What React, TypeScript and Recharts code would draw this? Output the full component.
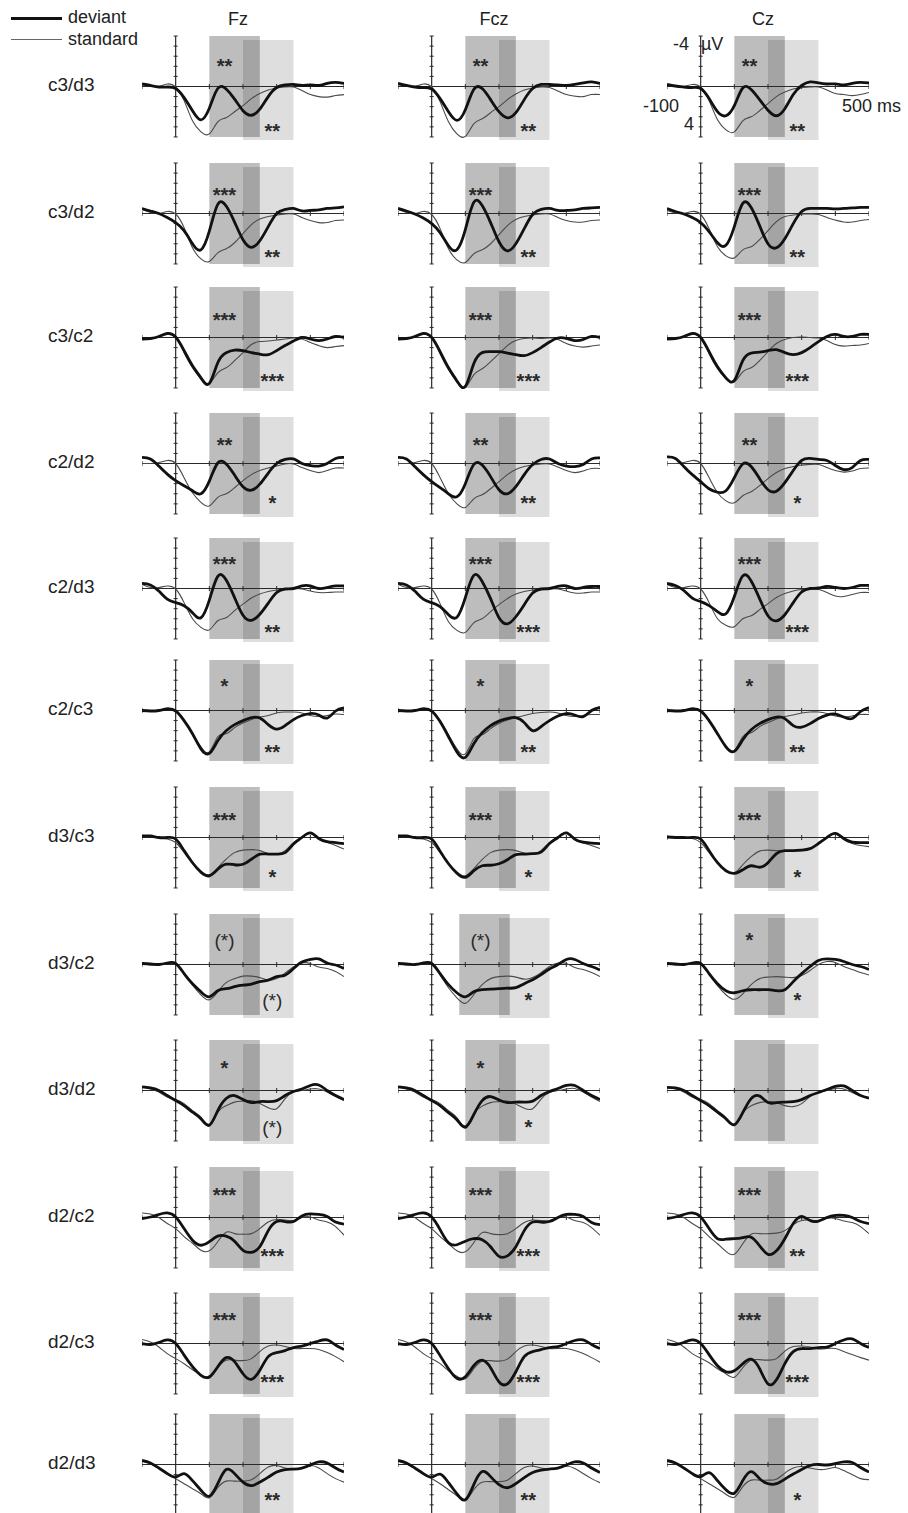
import React from 'react';
import {
  ComposedChart,
  Line,
  XAxis,
  YAxis,
  ReferenceArea,
  ReferenceLine,
  ReferenceDot,
} from 'recharts';

// time base of every waveform (ms)
const TIMES = [
  -100, -75, -50, -25, 0, 25, 50, 75, 100, 125, 150, 175, 200, 225, 250, 275, 300, 325, 350, 375, 400, 425, 450, 475,
  500,
];
const ELECTRODES = ['Fz', 'Fcz', 'Cz'];
const CONDITIONS = ['c3/d3', 'c3/d2', 'c3/c2', 'c2/d2', 'c2/d3', 'c2/c3', 'd3/c3', 'd3/c2', 'd3/d2', 'd2/c2', 'd2/c3', 'd2/d3'];
const X_TICKS = [-100, 100, 200, 300, 400, 500];
const Y_TICKS = [-5, -4, -3, -2, -1, 1, 2, 3, 4, 5];

// µV, positive is drawn downwards. Each row: [Fz, Fcz, Cz]
const devC3D3 = [
  [-0.25, -0.1, 0.05, 0.05, 0.2, 1.1, 2.4, 3.3, 2.15, 0.2, 0.25, 1.25, 2.4, 2.85, 2.25, 1.0, 0.1, -0.15, -0.2, -0.1, -0.15, -0.1, -0.3, -0.4, -0.3],
  [-0.3, -0.1, 0.05, 0.1, 0.25, 1.2, 2.5, 3.35, 2.3, 0.3, 0.2, 1.3, 2.5, 3.1, 2.6, 1.3, 0.2, -0.2, -0.2, -0.15, -0.1, -0.2, -0.35, -0.45, -0.3],
  [-0.2, -0.05, 0.05, 0.1, 0.2, 1.2, 2.5, 2.9, 1.9, 0.15, 0.3, 1.3, 2.35, 2.9, 2.2, 0.8, -0.1, -0.45, -0.35, -0.25, -0.25, -0.15, -0.3, -0.4, -0.35],
];
const stdC3D3 = [
  [-0.2, -0.05, 0, -0.25, 0.05, 1.4, 3.4, 4.5, 4.7, 3.5, 3.1, 2.5, 1.9, 1.2, 0.7, 0.35, 0.15, 0.05, 0.05, 0.4, 0.8, 1.0, 1.05, 0.9, 0.8],
  [-0.2, -0.05, 0, -0.25, 0.05, 1.5, 3.5, 4.7, 4.95, 3.7, 3.2, 2.6, 2.0, 1.3, 0.75, 0.35, 0.15, 0.05, 0.1, 0.45, 0.8, 0.95, 1.0, 0.8, 0.8],
  [-0.1, 0, 0, -0.2, 0.05, 1.4, 3.3, 4.3, 4.5, 3.4, 3.0, 2.4, 1.7, 1.0, 0.55, 0.25, 0.1, 0.05, 0.05, 0.35, 0.7, 0.8, 0.9, 0.8, 0.6],
];

const devC3D2 = [
  [-0.5, -0.25, 0, 0.4, 0.9, 1.7, 3.0, 3.6, 1.75, -0.9, -0.75, 0.85, 2.6, 3.35, 2.7, 1.3, 0.0, -0.4, -0.5, -0.25, -0.3, -0.35, -0.5, -0.55, -0.65],
  [-0.5, -0.25, 0.05, 0.45, 1.0, 1.9, 3.2, 3.6, 1.6, -1.1, -0.8, 0.9, 2.8, 3.7, 3.0, 1.5, 0.1, -0.4, -0.5, -0.3, -0.3, -0.35, -0.5, -0.55, -0.6],
  [-0.5, -0.2, 0.05, 0.4, 0.9, 1.8, 2.9, 3.15, 1.3, -1.0, -0.6, 1.2, 3.0, 3.4, 2.5, 1.0, -0.2, -0.5, -0.5, -0.5, -0.45, -0.5, -0.55, -0.6, -0.6],
];
const stdC3D2 = [
  [-0.4, -0.1, 0, -0.2, 0.05, 1.4, 3.4, 4.5, 4.75, 3.9, 3.5, 2.9, 2.0, 1.1, 0.55, 0.3, 0.15, 0.05, 0.05, 0.4, 0.7, 0.9, 0.9, 0.7, 0.65],
  [-0.4, -0.1, 0, -0.2, 0.1, 1.5, 3.5, 4.6, 4.85, 4.0, 3.6, 3.0, 2.1, 1.2, 0.6, 0.3, 0.15, 0.05, 0.05, 0.4, 0.7, 0.85, 0.85, 0.7, 0.65],
  [-0.3, -0.05, 0, -0.2, 0.1, 1.5, 3.3, 4.2, 4.4, 3.6, 3.3, 2.6, 1.7, 0.8, 0.3, 0.15, 0.05, 0.05, 0.1, 0.4, 0.65, 0.85, 0.85, 0.7, 0.6],
];

const devC3C2 = [
  [0.15, 0.1, -0.1, -0.4, -0.05, 1.3, 2.8, 4.0, 4.55, 2.5, 1.5, 1.25, 1.3, 1.5, 1.65, 1.7, 1.3, 0.8, 0.35, 0.0, 0.15, 0.3, 0.15, -0.1, 0.0],
  [0.15, 0.1, -0.1, -0.4, 0.0, 1.4, 3.0, 4.3, 4.85, 2.6, 1.5, 1.4, 1.4, 1.55, 1.7, 1.8, 1.5, 1.0, 0.45, 0.05, 0.1, 0.3, 0.2, -0.1, 0.0],
  [0.15, 0.1, -0.1, -0.4, 0.0, 1.4, 2.9, 4.0, 4.25, 2.3, 1.55, 1.45, 1.3, 1.2, 1.5, 1.7, 1.5, 1.0, 0.4, -0.1, -0.3, -0.1, -0.1, -0.3, -0.3],
];
const stdC3C2 = [
  [0.15, 0.15, -0.05, -0.3, 0.0, 1.5, 3.0, 4.1, 4.55, 3.5, 3.0, 2.3, 1.5, 0.7, 0.4, 0.35, 0.25, 0.15, 0.05, 0.15, 0.5, 0.8, 1.0, 0.9, 0.8],
  [0.15, 0.15, -0.05, -0.3, 0.0, 1.6, 3.2, 4.4, 4.95, 3.7, 3.1, 2.4, 1.6, 0.8, 0.3, 0.1, 0.05, 0.1, 0.05, 0.2, 0.6, 0.85, 0.95, 0.85, 0.75],
  [0.15, 0.15, -0.05, -0.3, 0.0, 1.6, 3.1, 4.1, 4.4, 3.4, 3.0, 2.3, 1.4, 0.6, 0.2, 0.0, -0.05, 0.0, 0.05, 0.3, 0.7, 0.85, 0.8, 0.75, 0.6],
];

const devC2D2 = [
  [-0.6, -0.45, 0.25, 1.05, 1.7, 2.2, 2.7, 3.0, 1.75, -0.05, 0.05, 1.15, 2.3, 2.65, 2.05, 0.95, 0.0, -0.4, -0.45, 0.0, 0.2, 0.25, 0.0, -0.5, -0.6],
  [-0.6, -0.45, 0.3, 1.1, 1.8, 2.4, 3.0, 3.3, 2.0, 0.1, 0.15, 1.3, 2.6, 3.0, 2.3, 1.1, 0.1, -0.4, -0.45, 0.0, 0.25, 0.3, 0.1, -0.45, -0.55],
  [-0.65, -0.5, 0.3, 1.1, 1.8, 2.5, 2.85, 2.7, 1.4, 0.05, 0.3, 1.5, 2.6, 2.75, 1.9, 0.7, -0.3, -0.5, -0.4, -0.3, 0.2, 0.6, 0.4, -0.3, -0.4],
];
const stdC2D2 = [
  [0, 0, -0.1, -0.3, 0, 1.4, 2.9, 3.85, 4.2, 3.35, 3.0, 2.4, 1.7, 1.1, 0.7, 0.45, 0.25, 0.05, 0.05, 0.4, 0.7, 0.9, 0.7, 0.45, 0.45],
  [0, 0, -0.1, -0.3, 0, 1.4, 3.0, 4.0, 4.35, 3.5, 3.1, 2.5, 1.8, 1.1, 0.6, 0.3, 0.15, 0.05, 0.05, 0.35, 0.7, 0.9, 0.75, 0.5, 0.5],
  [0, 0, -0.1, -0.3, 0, 1.4, 2.9, 3.7, 3.9, 3.2, 2.8, 2.2, 1.5, 0.9, 0.5, 0.3, 0.15, 0.1, 0.1, 0.4, 0.7, 0.85, 0.75, 0.5, 0.45],
];

const devC2D3 = [
  [-0.5, -0.35, 0.25, 1.05, 1.4, 1.7, 2.4, 2.9, 1.15, -1.2, -0.85, 0.9, 2.65, 3.15, 2.55, 1.45, 0.4, 0.05, 0.0, -0.25, -0.25, 0.0, -0.1, -0.25, -0.25],
  [-0.5, -0.35, 0.25, 1.05, 1.4, 1.8, 2.6, 2.85, 0.9, -1.3, -0.7, 1.0, 2.9, 3.5, 2.8, 1.6, 0.45, 0.05, 0.0, -0.2, -0.25, 0.0, -0.1, -0.2, -0.2],
  [-0.5, -0.3, 0.2, 0.95, 1.3, 1.7, 2.3, 2.5, 0.8, -1.25, -0.75, 1.0, 2.7, 3.2, 2.6, 1.4, 0.35, 0.0, -0.05, -0.2, -0.1, 0.0, -0.1, -0.3, -0.3],
];
const stdC2D3 = [
  [-0.4, -0.1, -0.1, -0.25, 0.05, 1.4, 3.0, 3.85, 4.1, 3.2, 2.9, 2.2, 1.55, 0.95, 0.55, 0.3, 0.15, 0.05, 0.0, 0.05, 0.25, 0.4, 0.4, 0.35, 0.35],
  [-0.4, -0.1, -0.1, -0.25, 0.05, 1.5, 3.3, 4.15, 4.35, 3.4, 3.0, 2.3, 1.6, 1.0, 0.55, 0.3, 0.15, 0.05, 0.0, 0.05, 0.25, 0.45, 0.45, 0.35, 0.35],
  [-0.4, -0.1, -0.1, -0.25, 0.05, 1.4, 3.0, 3.65, 3.8, 3.0, 2.7, 2.1, 1.5, 0.9, 0.5, 0.25, 0.1, 0.05, 0.1, 0.4, 0.75, 0.8, 0.6, 0.4, 0.4],
];

const devC2C3 = [
  [0, 0.05, 0, -0.15, 0.05, 1.0, 2.3, 3.8, 4.25, 3.0, 2.0, 1.4, 1.0, 0.7, 0.75, 1.4, 1.85, 1.5, 0.9, 0.5, 0.3, 0.45, 0.75, 0.05, -0.25],
  [0, 0.05, 0, -0.15, 0.05, 1.1, 2.6, 4.1, 4.65, 3.3, 2.2, 1.5, 1.05, 0.8, 0.7, 1.2, 2.0, 1.6, 1.0, 0.55, 0.3, 0.45, 0.6, 0.0, -0.3],
  [0, 0.05, 0, -0.15, 0.05, 1.0, 2.3, 3.6, 4.05, 2.9, 1.9, 1.3, 0.9, 0.65, 0.8, 1.5, 1.65, 1.3, 0.8, 0.45, 0.35, 0.65, 0.8, 0.1, -0.3],
];
const stdC2C3 = [
  [0, 0.05, 0, -0.25, 0.05, 1.0, 2.3, 3.6, 4.1, 2.6, 2.3, 1.7, 1.25, 0.9, 0.65, 0.5, 0.25, 0.15, 0.15, 0.25, 0.5, 0.6, 0.5, 0.35, 0.4],
  [0, 0.05, 0, -0.25, 0.05, 1.0, 2.4, 3.8, 4.3, 2.8, 2.4, 1.8, 1.3, 0.95, 0.7, 0.5, 0.3, 0.2, 0.15, 0.25, 0.5, 0.6, 0.5, 0.4, 0.4],
  [0, 0.05, 0, -0.25, 0.05, 1.0, 2.3, 3.5, 3.95, 2.6, 2.2, 1.6, 1.2, 0.85, 0.6, 0.45, 0.25, 0.15, 0.15, 0.3, 0.55, 0.65, 0.55, 0.4, 0.4],
];

const devD3C3 = [
  [-0.15, -0.15, 0, 0, 0.15, 1.3, 2.5, 3.45, 3.8, 3.15, 2.65, 2.7, 2.65, 2.15, 1.65, 1.65, 1.65, 1.5, 0.65, 0.0, -0.45, 0.1, 0.4, 0.5, 0.6],
  [-0.15, -0.15, 0, 0, 0.15, 1.35, 2.6, 3.55, 3.95, 3.3, 2.8, 2.75, 2.6, 2.2, 1.7, 1.65, 1.6, 1.45, 0.6, 0.0, -0.45, 0.15, 0.45, 0.55, 0.6],
  [-0.05, 0, 0, 0, 0.15, 1.3, 2.5, 3.3, 3.55, 3.2, 2.8, 2.95, 2.5, 1.6, 1.3, 1.3, 1.25, 1.1, 0.6, 0.0, -0.4, 0.1, 0.45, 0.5, 0.5],
];
const stdD3C3 = [
  [-0.15, -0.1, 0, 0.15, 0.5, 1.5, 2.5, 3.3, 3.7, 3.0, 2.15, 1.5, 1.25, 1.2, 1.3, 1.6, 1.65, 1.3, 0.5, -0.05, -0.4, 0.15, 0.5, 0.8, 1.15],
  [-0.15, -0.1, 0, 0.15, 0.5, 1.5, 2.6, 3.4, 3.8, 3.1, 2.2, 1.5, 1.25, 1.2, 1.3, 1.55, 1.6, 1.3, 0.5, -0.05, -0.45, 0.2, 0.55, 0.8, 1.1],
  [-0.05, 0, 0, 0.1, 0.5, 1.5, 2.5, 3.2, 3.5, 2.7, 1.9, 1.35, 1.25, 1.3, 1.35, 1.35, 1.3, 1.1, 0.5, -0.05, -0.35, 0.2, 0.6, 0.8, 0.9],
];

const devD3C2 = [
  [-0.1, -0.05, 0, -0.15, -0.1, 0.9, 1.9, 2.7, 3.2, 2.6, 2.4, 2.2, 2.05, 1.95, 1.7, 1.55, 1.2, 1.05, 0.4, -0.25, -0.5, -0.55, -0.15, 0.05, 0.4],
  [-0.1, -0.05, 0, -0.15, -0.1, 0.9, 2.0, 2.8, 3.2, 2.7, 2.5, 2.45, 2.4, 2.35, 2.3, 1.9, 1.5, 1.0, 0.45, 0.0, -0.5, -0.5, -0.1, 0.2, 0.55],
  [-0.1, -0.05, 0, -0.15, -0.1, 0.9, 1.9, 2.6, 2.8, 2.6, 2.5, 2.5, 2.5, 2.6, 2.5, 1.7, 0.9, 0.2, -0.4, -0.55, -0.5, -0.3, 0.0, 0.2, 0.5],
];
const stdD3C2 = [
  [-0.1, 0.05, 0.05, -0.1, 0.0, 0.9, 2.05, 3.0, 3.5, 2.7, 1.8, 1.4, 1.15, 1.15, 1.3, 1.55, 1.4, 0.85, 0.25, -0.15, -0.1, 0.25, 0.4, 0.7, 1.2],
  [-0.1, 0.05, 0.05, -0.1, 0.0, 1.0, 2.3, 3.3, 3.85, 3.0, 2.0, 1.4, 1.2, 1.15, 1.25, 1.45, 1.3, 0.8, 0.2, -0.15, -0.1, 0.3, 0.5, 0.8, 1.2],
  [-0.1, 0.05, 0.05, -0.1, 0.0, 0.95, 2.1, 3.0, 3.45, 2.9, 2.0, 1.4, 1.25, 1.2, 1.25, 1.3, 1.1, 0.6, 0.0, -0.3, -0.2, 0.2, 0.5, 0.8, 1.05],
];

const devD3D2 = [
  [-0.35, -0.25, 0, 0.5, 1.0, 1.5, 2.15, 2.8, 3.45, 2.0, 0.8, 0.5, 0.9, 1.2, 1.1, 1.1, 1.0, 0.5, 0.1, -0.15, -0.5, -0.55, 0.0, 0.5, 0.9],
  [-0.35, -0.25, 0, 0.5, 1.0, 1.5, 2.2, 2.9, 3.65, 2.4, 1.0, 0.6, 0.95, 1.2, 1.15, 1.15, 1.05, 0.5, 0.1, -0.2, -0.5, -0.5, 0.0, 0.5, 0.9],
  [-0.3, -0.25, 0, 0.5, 1.0, 1.5, 2.15, 2.8, 3.4, 2.2, 0.8, 0.55, 1.2, 1.2, 1.15, 1.1, 0.9, 0.5, 0.2, -0.1, -0.4, -0.45, 0.0, 0.5, 0.75],
];
const stdD3D2 = [
  [-0.35, -0.15, 0.15, 0.65, 0.9, 1.3, 2.0, 2.65, 3.35, 2.15, 1.5, 1.15, 1.05, 1.0, 1.3, 1.7, 1.8, 0.8, 0.15, 0.0, -0.15, -0.15, 0.15, 0.6, 1.0],
  [-0.35, -0.15, 0.15, 0.65, 0.9, 1.3, 2.0, 2.7, 3.5, 2.3, 1.55, 1.2, 1.1, 1.05, 1.35, 1.75, 1.8, 0.85, 0.2, 0.0, -0.15, -0.2, 0.15, 0.65, 1.1],
  [-0.3, -0.15, 0.15, 0.65, 0.9, 1.3, 2.0, 2.7, 3.35, 2.2, 1.5, 1.2, 1.1, 1.2, 1.5, 1.6, 1.3, 0.6, 0.2, 0.0, -0.2, -0.15, 0.2, 0.5, 0.7],
];

const devD2C2 = [
  [0.1, -0.05, -0.3, -0.45, -0.05, 1.1, 2.25, 2.75, 2.4, 1.85, 1.85, 2.35, 3.25, 3.45, 2.9, 1.3, 0.4, 0.4, 0.4, -0.15, -0.35, -0.3, -0.1, 0.45, 0.65],
  [0.1, -0.05, -0.3, -0.45, -0.05, 1.2, 2.5, 2.7, 2.35, 2.1, 2.2, 2.9, 3.85, 3.8, 2.9, 1.3, 0.45, 0.45, 0.4, 0.0, -0.3, -0.3, -0.1, 0.5, 0.7],
  [0.1, -0.05, -0.3, -0.45, -0.05, 1.1, 2.1, 2.15, 2.1, 2.0, 1.95, 2.8, 3.65, 3.3, 2.1, 0.6, -0.1, 0.3, 0.35, 0.0, -0.2, -0.2, 0.0, 0.4, 0.6],
];
const stdD2C2 = [
  [-0.45, -0.35, 0.0, 0.6, 1.1, 1.9, 2.55, 3.25, 3.3, 2.4, 1.45, 1.6, 1.65, 1.6, 1.1, 0.45, 0.2, 0.25, 0.3, 0.0, -0.05, 0.25, 0.45, 0.9, 1.75],
  [-0.45, -0.35, 0.0, 0.6, 1.1, 1.9, 2.6, 3.3, 3.4, 2.5, 1.5, 1.6, 1.7, 1.6, 1.1, 0.5, 0.25, 0.3, 0.3, 0.0, -0.05, 0.3, 0.5, 1.0, 1.75],
  [-0.45, -0.35, 0.0, 0.6, 1.1, 1.9, 2.6, 3.35, 3.65, 2.6, 1.65, 1.6, 1.6, 1.55, 1.3, 0.7, 0.3, 0.25, 0.3, 0.1, 0.1, 0.35, 0.5, 0.9, 1.6],
];

const devD2C3 = [
  [0, 0.1, -0.1, -0.35, 0, 1.15, 2.3, 3.15, 3.3, 2.3, 1.4, 1.8, 3.0, 3.55, 2.65, 1.3, 0.9, 0.7, 0.4, 0.25, 0.0, -0.25, -0.35, 0.15, 0.6],
  [0, 0.1, -0.1, -0.35, 0, 1.2, 2.5, 3.45, 3.3, 2.2, 1.65, 2.4, 3.8, 4.0, 2.8, 1.3, 0.8, 0.6, 0.4, 0.3, 0.0, -0.3, -0.35, 0.1, 0.5],
  [0, 0.1, -0.1, -0.35, 0, 1.1, 2.2, 2.8, 2.7, 2.0, 1.55, 2.5, 4.0, 3.6, 2.0, 0.8, 0.5, 0.5, 0.4, 0.35, 0.0, -0.35, -0.45, 0.0, 0.4],
];
const stdD2C3 = [
  [-0.4, -0.15, 0.35, 1.0, 1.5, 2.0, 2.6, 3.15, 3.45, 2.4, 1.65, 1.65, 1.7, 1.5, 0.8, 0.25, 0.15, 0.3, 0.5, 0.5, 0.5, 0.6, 0.9, 1.3, 1.8],
  [-0.4, -0.15, 0.35, 1.0, 1.5, 2.0, 2.7, 3.25, 3.5, 2.5, 1.75, 1.7, 1.75, 1.55, 0.8, 0.25, 0.15, 0.3, 0.5, 0.5, 0.5, 0.7, 1.0, 1.4, 1.85],
  [-0.4, -0.15, 0.35, 1.0, 1.45, 1.9, 2.5, 3.0, 3.35, 2.4, 1.65, 1.6, 1.65, 1.5, 0.75, 0.3, 0.25, 0.35, 0.55, 0.5, 0.5, 0.8, 1.1, 1.4, 1.65],
];

const devD2D3 = [
  [-0.4, -0.15, 0.35, 0.9, 1.25, 0.9, 1.6, 2.55, 3.15, 1.9, 0.5, 0.9, 1.75, 2.1, 1.75, 1.25, 0.75, 0.5, 0.45, 0.35, 0.05, -0.25, -0.15, 0.35, 0.75],
  [-0.4, -0.15, 0.35, 0.9, 1.25, 0.95, 1.8, 2.9, 3.5, 2.0, 0.7, 1.2, 2.0, 2.3, 1.9, 1.3, 0.8, 0.55, 0.45, 0.35, 0.05, -0.25, -0.15, 0.35, 0.8],
  [-0.4, -0.15, 0.35, 0.9, 1.2, 0.8, 1.6, 2.5, 2.85, 1.6, 0.7, 1.4, 1.9, 1.9, 1.45, 0.95, 0.5, 0.1, 0.0, 0.05, -0.1, -0.25, -0.2, 0.3, 0.75],
];
const stdD2D3 = [
  [-0.35, -0.1, 0.4, 0.9, 1.4, 1.9, 2.4, 2.9, 3.3, 2.3, 1.65, 1.65, 1.65, 1.5, 0.9, 0.25, 0.1, 0.35, 0.45, 0.35, 0.1, 0.35, 0.9, 1.4, 1.75],
  [-0.35, -0.1, 0.4, 0.9, 1.4, 1.9, 2.5, 3.1, 3.55, 2.5, 1.75, 1.7, 1.7, 1.55, 0.9, 0.3, 0.15, 0.35, 0.45, 0.35, 0.15, 0.4, 0.9, 1.4, 1.8],
  [-0.35, -0.1, 0.4, 0.9, 1.4, 1.9, 2.4, 2.95, 3.25, 2.2, 1.55, 1.55, 1.55, 1.45, 0.85, 0.35, 0.2, 0.35, 0.5, 0.45, 0.3, 0.6, 1.0, 1.4, 1.5],
];

const DEVIANT = [devC3D3, devC3D2, devC3C2, devC2D2, devC2D3, devC2C3, devD3C3, devD3C2, devD3D2, devD2C2, devD2C3, devD2D3];
const STANDARD = [stdC3D3, stdC3D2, stdC3C2, stdC2D2, stdC2D3, stdC2C3, stdD3C3, stdD3C2, stdD3D2, stdD2C2, stdD2C3, stdD2D3];

// significance marks: early window (top) and late window (bottom), [Fz, Fcz, Cz]
const EARLY_SIG = [
  ['**', '**', '**'],
  ['***', '***', '***'],
  ['***', '***', '***'],
  ['**', '**', '**'],
  ['***', '***', '***'],
  ['*', '*', '*'],
  ['***', '***', '***'],
  ['(*)', '(*)', '*'],
  ['*', '*', ''],
  ['***', '***', '***'],
  ['***', '***', '***'],
  ['', '', ''],
];
const LATE_SIG = [
  ['**', '**', '**'],
  ['**', '**', '**'],
  ['***', '***', '***'],
  ['*', '**', '*'],
  ['**', '***', '***'],
  ['**', '**', '**'],
  ['*', '*', '*'],
  ['(*)', '*', '*'],
  ['(*)', '*', ''],
  ['***', '***', '**'],
  ['***', '***', '***'],
  ['**', '**', '*'],
];

// analysis windows (ms)
const EARLY_WINDOW = [100, 250];
const LATE_WINDOW = [200, 350];

// layout
const FONT = '"Liberation Sans", Arial, Helvetica, sans-serif';
const COL_LEFT = [142, 398, 667];
const ROW_ZERO = [86, 213, 337, 463, 588, 710, 837, 964, 1090, 1217, 1343, 1464];
const PANEL_W = 202;
const PANEL_H = 111;
const EARLY_MARK_Y = [-2.0, -1.8, -1.7, -1.8, -2.4, -2.4, -1.7, -2.4, -2.2, -2.2, -2.3, -2.2];
const LATE_MARK_Y = [4.4, 4.3, 4.3, 3.9, 4.3, 4.1, 3.9, 3.5, 3.6, 3.8, 3.8, 3.5];

interface PanelProps {
  dev: number[];
  std: number[];
  early: string;
  late: string;
  earlyY: number;
  lateY: number;
  earlyWin: number[];
}

const markLabel = (value: string) => {
  const paren = value.includes('(');
  return {
    value,
    position: 'center' as const,
    fill: '#2a2a2a',
    fontSize: paren ? 19 : 20,
    fontWeight: paren ? 'normal' : 'bold',
    fontFamily: FONT,
  };
};

const Panel: React.FC<PanelProps> = ({ dev, std, early, late, earlyY, lateY, earlyWin }) => {
  const data = TIMES.map((t, i) => ({ t, dev: dev[i], std: std[i] }));
  return (
    <ComposedChart width={PANEL_W} height={PANEL_H} data={data} margin={{ top: 0, right: 0, bottom: 0, left: 0 }}>
      <XAxis dataKey="t" type="number" domain={[-100, 500]} hide />
      <YAxis type="number" domain={[-5.5, 5.5]} reversed hide />
      <ReferenceArea x1={earlyWin[0]} x2={earlyWin[1]} y1={-5} y2={5} fill="#000" fillOpacity={0.26} stroke="none" />
      <ReferenceArea x1={LATE_WINDOW[0]} x2={LATE_WINDOW[1]} y1={-4.6} y2={5.3} fill="#000" fillOpacity={0.13} stroke="none" />
      <ReferenceLine y={0} stroke="#2a2a2a" strokeWidth={1.2} />
      <ReferenceLine segment={[{ x: 0, y: -5 }, { x: 0, y: 5 }]} stroke="#2a2a2a" strokeWidth={1.2} />
      {X_TICKS.map((x) => (
        <ReferenceLine key={`xt${x}`} segment={[{ x, y: -0.25 }, { x, y: 0.25 }]} stroke="#2a2a2a" />
      ))}
      {Y_TICKS.map((y) => (
        <ReferenceLine key={`yt${y}`} segment={[{ x: -6, y }, { x: 6, y }]} stroke="#2a2a2a" />
      ))}
      {early && <ReferenceDot x={145} y={earlyY} r={0} fill="none" stroke="none" label={markLabel(early)} />}
      {late && <ReferenceDot x={287} y={lateY} r={0} fill="none" stroke="none" label={markLabel(late)} />}
      <Line
        dataKey="std"
        type="natural"
        stroke="#4a4a4a"
        strokeWidth={1.1}
        dot={false}
        activeDot={false}
        isAnimationActive={false}
      />
      <Line
        dataKey="dev"
        type="natural"
        stroke="#111"
        strokeWidth={2.8}
        strokeLinejoin="round"
        dot={false}
        activeDot={false}
        isAnimationActive={false}
      />
    </ComposedChart>
  );
};

const text = (content: string, left: number, top: number, size: number, extra: React.CSSProperties = {}) => (
  <div
    key={`${content}-${left}-${top}`}
    style={{
      position: 'absolute',
      left,
      top,
      fontSize: size,
      lineHeight: 1,
      fontFamily: FONT,
      color: '#222',
      whiteSpace: 'nowrap',
      ...extra,
    }}
  >
    {content}
  </div>
);

const App: React.FC = () => {
  return (
    <div style={{ position: 'absolute', left: 0, top: 0, width: 908, height: 1513, background: '#fff', overflow: 'hidden' }}>
      {/* legend */}
      <div style={{ position: 'absolute', left: 11, top: 17, width: 51, height: 2.5, background: '#111' }} />
      {text('deviant', 68, 8, 18)}
      <div style={{ position: 'absolute', left: 11, top: 39, width: 51, height: 1, background: '#666' }} />
      {text('standard', 68, 30, 18)}

      {/* electrode titles */}
      {ELECTRODES.map((name, c) =>
        text(name, COL_LEFT[c] + 96, 10, 18, { width: 0, display: 'flex', justifyContent: 'center' })
      )}

      {/* scale annotation on first Cz panel */}
      {text('-4', 673, 35, 18)}
      {text('µV', 701, 35, 18)}
      {text('-100', 643, 97, 18)}
      {text('500 ms', 842, 97, 18)}
      {text('4', 684, 115, 18)}

      {CONDITIONS.map((cond, r) => (
        <React.Fragment key={cond}>
          {text(cond, 48, ROW_ZERO[r] - 11, 19)}
          {ELECTRODES.map((el, c) => (
            <div
              key={`${cond}-${el}`}
              style={{ position: 'absolute', left: COL_LEFT[c], top: ROW_ZERO[r] - PANEL_H / 2 }}
            >
              <Panel
                dev={DEVIANT[r][c]}
                std={STANDARD[r][c]}
                early={EARLY_SIG[r][c]}
                late={LATE_SIG[r][c]}
                earlyY={EARLY_MARK_Y[r]}
                lateY={LATE_MARK_Y[r]}
                earlyWin={r === 7 && c === 1 ? [82, 232] : EARLY_WINDOW}
              />
            </div>
          ))}
        </React.Fragment>
      ))}
    </div>
  );
};

export default App;
